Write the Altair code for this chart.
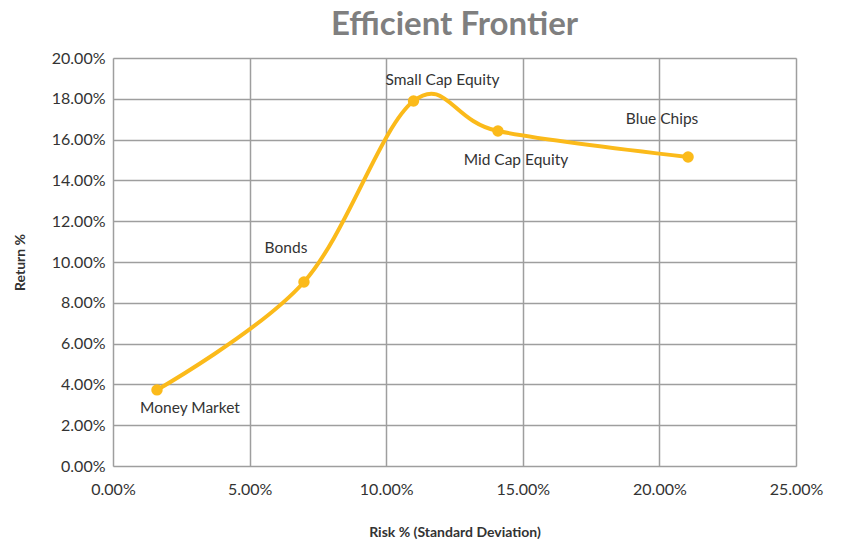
import altair as alt
import pandas as pd

# Portfolio risk/return points along the frontier
assets = ["Money Market", "Bonds", "Small Cap Equity", "Mid Cap Equity", "Blue Chips"]
risk = [0.0161, 0.0699, 0.1100, 0.1409, 0.2105]
ret = [0.0373, 0.0902, 0.1789, 0.1642, 0.1515]

df = pd.DataFrame({"asset": assets, "risk": risk, "ret": ret, "order": range(len(assets))})

GOLD = "#FBBA1A"
FONT = "Lato"

x_enc = alt.X(
    "risk:Q",
    scale=alt.Scale(domain=[0, 0.25], nice=False),
    axis=alt.Axis(
        format=".2%", values=[0, 0.05, 0.10, 0.15, 0.20, 0.25], labelOverlap=False,
        labelFlush=False,
        title="Risk % (Standard Deviation)", titleFontWeight="bold", titleFontSize=14,
        titlePadding=28, labelPadding=15, labelFontSize=16, ticks=False, domain=False,
        gridColor="#9e9e9e", gridWidth=1.5, labelColor="#333333", titleColor="#333333",
        labelFont=FONT, titleFont=FONT, gridOpacity=1,
    ),
)
y_enc = alt.Y(
    "ret:Q",
    scale=alt.Scale(domain=[0, 0.20], nice=False),
    axis=alt.Axis(
        format=".2%", values=[i / 50 for i in range(11)], labelOverlap=False,
        labelFlush=False,
        title="Return %", titleFontWeight="bold", titleFontSize=14,
        titlePadding=24, labelPadding=8, labelFontSize=16, ticks=False, domain=False,
        gridColor="#9e9e9e", gridWidth=1.5, labelColor="#333333", titleColor="#333333",
        labelFont=FONT, titleFont=FONT, gridOpacity=1,
    ),
)

base = alt.Chart(df)

curve = base.mark_line(color=GOLD, strokeWidth=4, interpolate="cardinal", tension=0).encode(
    x=x_enc, y=y_enc, order="order:Q"
)
dots = base.mark_circle(color=GOLD, size=130, opacity=1).encode(x="risk:Q", y="ret:Q")

# Label offsets (dx, dy) per asset
offsets = {
    "Money Market": (33, 18),
    "Bonds": (-18, -34),
    "Small Cap Equity": (29, -21),
    "Mid Cap Equity": (18, 29),
    "Blue Chips": (-26, -38),
}
labels = [
    base.transform_filter(alt.datum.asset == name)
    .mark_text(font=FONT, fontSize=15.5, color="#333333", dx=dx, dy=dy)
    .encode(x="risk:Q", y="ret:Q", text="asset:N")
    for name, (dx, dy) in offsets.items()
]

chart = (
    alt.layer(curve, dots, *labels)
    .properties(
        width=683,
        height=408,
        title=alt.TitleParams(
            "Efficient Frontier", fontSize=33, font=FONT, fontWeight="bold",
            color="#7f7f7f", anchor="middle", offset=8,
        ),
        autosize=alt.AutoSizeParams(type="none"),
        padding={"left": 113, "top": 58, "right": 48, "bottom": 79},
    )
    .configure_view(stroke="#9e9e9e", strokeWidth=1.5)
    .configure(background="white")
)

chart.save("out.html", embed_options={"renderer": "svg", "actions": False})
